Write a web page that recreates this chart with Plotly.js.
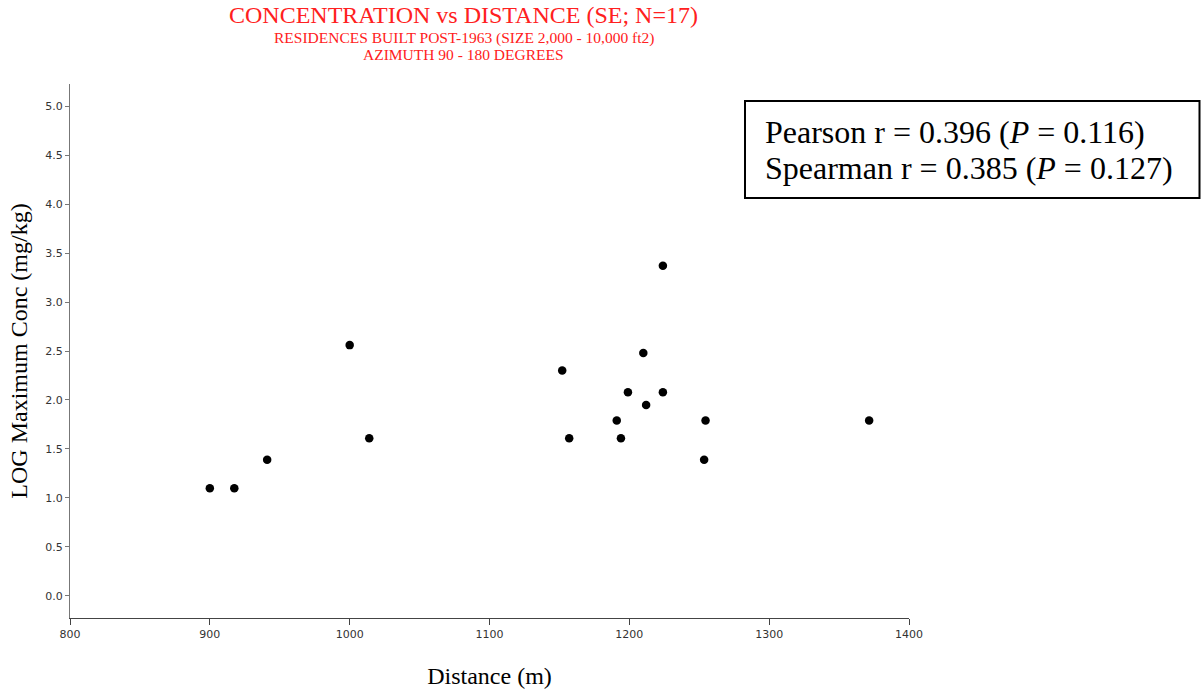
<!DOCTYPE html>
<html>
<head>
<meta charset="utf-8">
<script src="https://cdn.plot.ly/plotly-3.0.1.min.js"></script>
<style>html,body{margin:0;padding:0;background:#fff;}#chart{width:1201px;height:690px;}</style>
</head>
<body>
<div id="chart"></div>
<script>
// Data
const distance = [900, 917.5, 941, 1000, 1014, 1152, 1157, 1191, 1194, 1199, 1210, 1212, 1224, 1224, 1254.5, 1253.5, 1371.5];
const logConc  = [1.10, 1.10, 1.39, 2.56, 1.61, 2.30, 1.61, 1.79, 1.61, 2.08, 2.48, 1.95, 3.37, 2.08, 1.79, 1.39, 1.79];
const xTicks = [800, 900, 1000, 1100, 1200, 1300, 1400];
const yTicks = [0.0, 0.5, 1.0, 1.5, 2.0, 2.5, 3.0, 3.5, 4.0, 4.5, 5.0];
const yTickLabels = ['0.0','0.5','1.0','1.5','2.0','2.5','3.0','3.5','4.0','4.5','5.0'];
const titleMain = 'CONCENTRATION vs DISTANCE (SE; N=17)';
const titleSub1 = 'RESIDENCES BUILT POST-1963 (SIZE 2,000 - 10,000 ft2)';
const titleSub2 = 'AZIMUTH 90 - 180 DEGREES';
const statLines = ['Pearson r = 0.396 (<i>P</i> = 0.116)', 'Spearman r = 0.385 (<i>P</i> = 0.127)'];

const W = 1201, H = 690;
const L = 70, R = 909, T = 84, B = 618;
const pw = R - L, ph = B - T;
const px = v => (v - L) / pw;
const py = v => (B - v) / ph;

const serif = '"Liberation Serif", "Times New Roman", serif';
const tickFont = {family: '"DejaVu Sans", Verdana, sans-serif', size: 11, color: '#333'};

const trace = {
  x: distance, y: logConc, type: 'scatter', mode: 'markers',
  marker: {color: '#000', size: 8.5, line: {width: 0}},
  hoverinfo: 'x+y', showlegend: false
};

const layout = {
  width: W, height: H,
  paper_bgcolor: '#fff', plot_bgcolor: '#fff',
  margin: {l: L, r: W - R, t: T, b: H - B, pad: 0},
  showlegend: false,
  xaxis: {
    range: [800, 1400], tickvals: xTicks, ticktext: xTicks.map(String),
    showgrid: false, zeroline: false, showline: true, linecolor: '#444', linewidth: 1,
    ticks: 'outside', ticklen: 6, tickcolor: '#444', tickfont: tickFont,
    title: {text: 'Distance (m)', font: {family: serif, size: 24, color: '#000'}, standoff: 26}
  },
  yaxis: {
    range: [-0.225, 5.225], tickvals: yTicks, ticktext: yTickLabels,
    showgrid: false, zeroline: false, showline: true, linecolor: '#777', linewidth: 1,
    ticks: 'outside', ticklen: 4, tickcolor: '#777', tickfont: tickFont,
    title: {text: 'LOG Maximum Conc (mg/kg)', font: {family: serif, size: 24, color: '#000'}, standoff: 10}
  },
  shapes: [{
    type: 'rect', xref: 'paper', yref: 'paper',
    x0: px(745), x1: px(1199.5), y0: py(198), y1: py(101),
    line: {color: '#000', width: 2}, fillcolor: 'rgba(0,0,0,0)'
  }],
  annotations: [
    {text: titleMain, xref: 'paper', yref: 'paper', x: px(463.5), y: py(15), xanchor: 'center', yanchor: 'middle',
     showarrow: false, font: {family: serif, size: 24, color: '#ff2020'}},
    {text: titleSub1, xref: 'paper', yref: 'paper', x: px(463.5), y: py(38), xanchor: 'center', yanchor: 'middle',
     showarrow: false, font: {family: serif, size: 15.5, color: '#ff2020'}},
    {text: titleSub2, xref: 'paper', yref: 'paper', x: px(463.5), y: py(55), xanchor: 'center', yanchor: 'middle',
     showarrow: false, font: {family: serif, size: 15.5, color: '#ff2020'}},
    {text: statLines[0], xref: 'paper', yref: 'paper', x: px(763), y: py(132), xanchor: 'left', yanchor: 'middle',
     showarrow: false, font: {family: serif, size: 32, color: '#000'}},
    {text: statLines[1], xref: 'paper', yref: 'paper', x: px(763), y: py(168), xanchor: 'left', yanchor: 'middle',
     showarrow: false, font: {family: serif, size: 32, color: '#000'}}
  ]
};

Plotly.newPlot('chart', [trace], layout, {displayModeBar: false, staticPlot: true});
</script>
</body>
</html>
